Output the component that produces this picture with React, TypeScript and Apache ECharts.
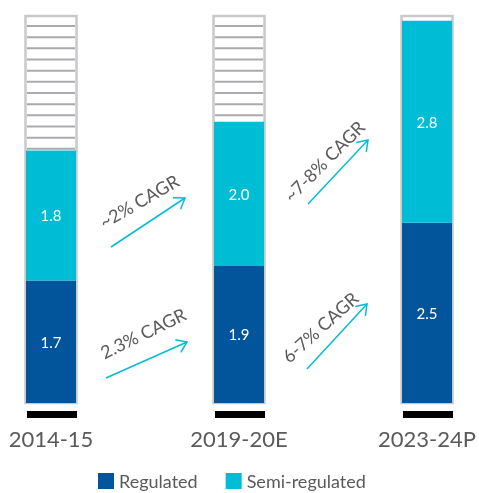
import React, { useEffect, useRef } from "react";
import * as echarts from "echarts";

const categories = ["2014-15", "2019-20E", "2023-24P"];
const regulated = [1.7, 1.9, 2.5];
const semiRegulated = [1.8, 2.0, 2.8];
const axisMax = 5.38;
const cagrLabels = ["~2% CAGR", "2.3% CAGR", "~7-8% CAGR", "6-7% CAGR"];

const DARK = "#02559A";
const CYAN = "#00BDD6";
const TEXT = "#5a5a5a";
const FONT = "Lato, 'Open Sans', sans-serif";

function arrow(x1: number, y1: number, x2: number, y2: number) {
  const ang = Math.atan2(y2 - y1, x2 - x1);
  const len = 12;
  const spread = (35 * Math.PI) / 180;
  const a1 = ang + Math.PI - spread;
  const a2 = ang + Math.PI + spread;
  return [
    {
      type: "line",
      shape: { x1, y1, x2, y2 },
      style: { stroke: CYAN, lineWidth: 1.5 },
      silent: true,
    },
    {
      type: "polyline",
      shape: {
        points: [
          [x2 + len * Math.cos(a1), y2 + len * Math.sin(a1)],
          [x2, y2],
          [x2 + len * Math.cos(a2), y2 + len * Math.sin(a2)],
        ],
      },
      style: { stroke: CYAN, lineWidth: 1.5, fill: null },
      silent: true,
    },
  ];
}

function cagrText(text: string, x: number, y: number, deg: number) {
  return {
    type: "text",
    x,
    y,
    rotation: (deg * Math.PI) / 180,
    style: {
      text,
      fill: TEXT,
      font: `18px ${FONT}`,
      align: "center",
      verticalAlign: "middle",
    },
    silent: true,
  };
}

export default function App() {
  const ref = useRef<HTMLDivElement>(null);

  useEffect(() => {
    if (!ref.current) return;
    const chart = echarts.init(ref.current, undefined, { renderer: "svg" });

    const option: any = {
      animation: false,
      textStyle: { fontFamily: FONT },
      grid: { left: 51, right: 50.5, top: 15, bottom: 90 },
      xAxis: {
        type: "category",
        data: categories,
        boundaryGap: false,
        axisLine: { show: false },
        axisTick: { show: false },
        axisLabel: { color: TEXT, fontSize: 22, margin: 24, fontFamily: FONT },
      },
      yAxis: {
        type: "value",
        min: 0,
        max: axisMax,
        show: false,
        splitLine: { show: false },
      },
      legend: {
        data: ["Regulated", "Semi-regulated"],
        icon: "rect",
        itemWidth: 16,
        itemHeight: 16,
        itemGap: 28,
        left: 98,
        top: 472,
        padding: 0,
        textStyle: { color: TEXT, fontSize: 18, fontFamily: FONT },
      },
      series: [
        {
          name: "bg",
          type: "custom",
          silent: true,
          z: 1,
          data: categories.map((_, i) => [i, axisMax]),
          encode: { x: 0, y: 1 },
          renderItem: (params: any, api: any) => {
            const idx = api.value(0);
            const base = api.coord([idx, 0]);
            const top = api.coord([idx, api.value(1)]);
            const w = 51;
            const left = base[0] - w / 2;
            const children: any[] = [
              {
                type: "rect",
                shape: { x: left, y: top[1] + 1, width: w, height: base[1] - top[1] - 1 },
                style: { fill: "#fff", stroke: "#c8c9ca", lineWidth: 2.5 },
              },
            ];
            for (let y = top[1] + 11; y < base[1] - 3; y += 11.17) {
              children.push({
                type: "line",
                shape: { x1: left + 1.5, y1: y, x2: left + w - 1.5, y2: y },
                style: { stroke: "#a9abae", lineWidth: 2 },
              });
            }
            children.push({
              type: "rect",
              shape: { x: base[0] - 24, y: base[1] + 8, width: 50, height: 7 },
              style: { fill: "#000" },
            });
            return { type: "group", children };
          },
        },
        {
          name: "Regulated",
          type: "bar",
          stack: "total",
          barWidth: 50,
          clip: false,
          z: 3,
          data: regulated,
          itemStyle: { color: DARK },
          label: {
            show: true,
            position: "inside",
            color: "#fff",
            fontSize: 15,
            fontFamily: FONT,
            formatter: (p: any) => Number(p.value).toFixed(1),
          },
        },
        {
          name: "Semi-regulated",
          type: "bar",
          stack: "total",
          barWidth: 50,
          clip: false,
          z: 3,
          data: semiRegulated,
          itemStyle: { color: CYAN },
          label: {
            show: true,
            position: "inside",
            color: "#fff",
            fontSize: 15,
            fontFamily: FONT,
            formatter: (p: any) => Number(p.value).toFixed(1),
          },
        },
      ],
      graphic: [
        ...arrow(111, 247, 185, 198),
        cagrText(cagrLabels[0], 139, 201, 30),
        ...arrow(106, 378, 187, 342),
        cagrText(cagrLabels[1], 143, 333, 26),
        ...arrow(308, 204, 368, 140),
        cagrText(cagrLabels[2], 324, 161, 45),
        ...arrow(307, 369, 367, 304),
        cagrText(cagrLabels[3], 320, 327, 42),
      ],
    };

    chart.setOption(option);
    return () => chart.dispose();
  }, []);

  return (
    <div
      ref={ref}
      style={{ position: "fixed", left: 0, top: 0, width: 479, height: 493 }}
    />
  );
}
